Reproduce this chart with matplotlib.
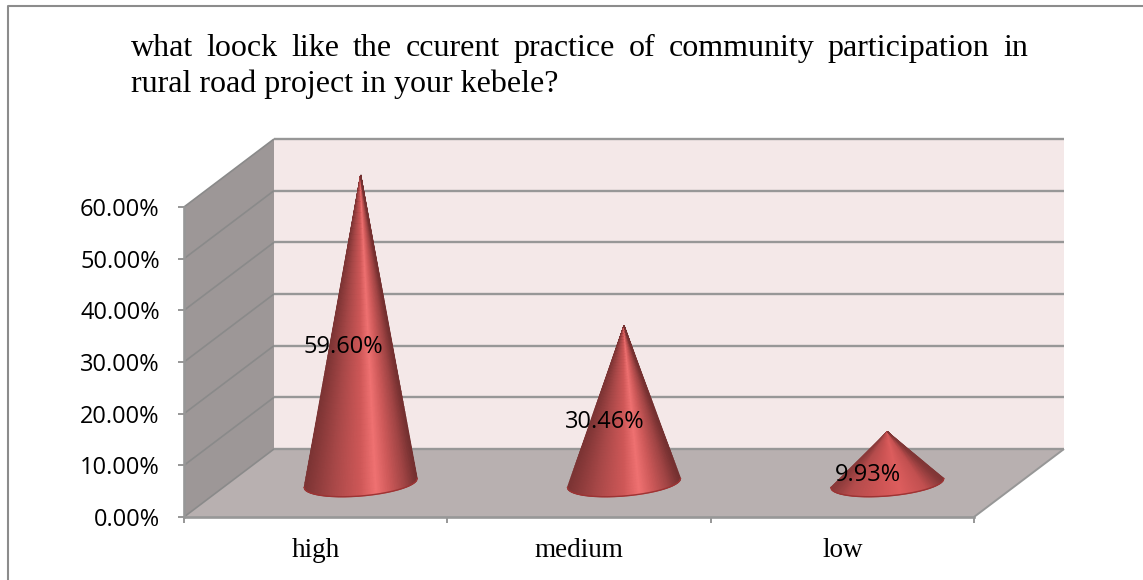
import numpy as np
import matplotlib
matplotlib.use("Agg")
import matplotlib.pyplot as plt
from matplotlib.colors import LinearSegmentedColormap
from matplotlib.lines import Line2D
from matplotlib.patches import Polygon
from matplotlib.transforms import ScaledTranslation

categories = ["high", "medium", "low"]
values = [59.60, 30.46, 9.93]
value_labels = ["59.60%", "30.46%", "9.93%"]
y_ticks = [0, 10, 20, 30, 40, 50, 60]
title_line1 = "what loock like the ccurent practice of community participation in"
title_line2 = "rural road project in your kebele?"

W, H = 1143, 580
GRID = "#979797"

fig = plt.figure(figsize=(W / 100, H / 100), dpi=100)
# front plane of the 3d box, in pixels: x 184-974, y 517-207
ax = fig.add_axes([184 / W, 1 - 517 / H, 790 / W, 310 / H])
ax.set_xlim(-0.5, 2.5)
ax.set_ylim(0, 60)
ax.patch.set_visible(False)

px_x = 3 / 790  # data units for one pixel
px_y = 60 / 310
depth_x = 90 * px_x
depth_y = 68 * px_y


def box(x, y, d):
    return (x + d * depth_x, y + d * depth_y)


def face(pts, color, z):
    ax.add_patch(Polygon(pts, closed=True, fc=color, ec="none", zorder=z, clip_on=False))


def line(pts, lw=1.7, z=2, color=GRID):
    xs, ys = zip(*pts)
    ax.plot(xs, ys, color=color, lw=lw, zorder=z, clip_on=False, solid_capstyle="butt")


x0, x1 = ax.get_xlim()
top = y_ticks[-1]
face([box(x0, 0, 1), box(x1, 0, 1), box(x1, top, 1), box(x0, top, 1)], "#f4e8e8", 1)
face([box(x0, 0, 0), box(x0, 0, 1), box(x0, top, 1), box(x0, top, 0)], "#9d9797", 1)
face([box(x0, 0, 0), box(x1, 0, 0), box(x1, 0, 1), box(x0, 0, 1)], "#b8b0b0", 1)

for t in y_ticks:
    line([box(x0, t, 0), box(x0, t, 1)], lw=1.2, color="#8a8a8a")
    line([box(x0, t, 1), box(x1, t, 1)])
line([box(x1, 0, 0), box(x1, 0, 1)], lw=1.4)

# cones drawn as fan shaped meshes so the shading runs up to the apex
shade = LinearSegmentedColormap.from_list(
    "cone",
    [(0.0, "#7c3434"), (0.25, "#a84848"), (0.5, "#cf5858"), (0.64, "#f07272"),
     (0.76, "#cf5a5a"), (0.9, "#a04444"), (1.0, "#743030")],
)
soft = LinearSegmentedColormap.from_list(
    "cone_soft",
    [(0.0, "#8a3a3a"), (0.15, "#b44c4c"), (0.4, "#cc5454"), (0.62, "#de5e5e"),
     (0.85, "#c25050"), (1.0, "#803636")],
)
cone_maps = [shade, shade, soft]
half_w = 56.5 * px_x
tilt = 4.5 * px_y
minor = 13 * px_y
label_shift = [-17, -19, -19]

u = np.linspace(-1, 1, 161)
t = np.linspace(0, 1, 60)
U, T = np.meshgrid(u, t)
for i, v in enumerate(values):
    cx, cy = box(i, 0, 0.5)
    apex = cy + v
    bottom = cy + tilt * U - minor * np.sqrt(1 - U ** 2)
    X = cx + U * half_w * T
    Y = apex + T * (bottom - apex)
    ax.pcolormesh(X, Y, (U + 1) / 2, cmap=cone_maps[i], shading="gouraud", zorder=3, clip_on=False)
    ax.plot(X[-1], Y[-1], color="#9c3434", lw=1.0, zorder=4, clip_on=False)
    off = ScaledTranslation(label_shift[i] / 100, -18 / 100, fig.dpi_scale_trans)
    ax.text(cx, cy + v / 2, value_labels[i], ha="center", va="center", fontsize=17,
            family="Open Sans", color="black", zorder=5, transform=ax.transData + off)

# axes and ticks
for side in ["top", "right"]:
    ax.spines[side].set_visible(False)
for side in ["left", "bottom"]:
    ax.spines[side].set_color(GRID)
    ax.spines[side].set_linewidth(1.9)
    ax.spines[side].set_zorder(2)
ax.set_yticks(y_ticks)
ax.set_yticklabels(["%.2f%%" % y for y in y_ticks], family="Open Sans", fontsize=17)
ax.tick_params(axis="y", length=4.5, width=1.4, color=GRID, pad=13)
ax.set_xticks(range(len(categories)))
ax.set_xticklabels(categories, family="Liberation Serif", fontsize=19.5)
ax.set_xticks(np.arange(x0, x1 + 0.5), minor=True)
ax.tick_params(axis="x", which="major", length=0, pad=15)
ax.tick_params(axis="x", which="minor", length=4.5, width=1.4, color=GRID)

# title, first line justified word by word
title_kw = dict(family="Liberation Serif", fontsize=23, color="black", va="baseline")
words = title_line1.split()
fig.canvas.draw()
renderer = fig.canvas.get_renderer()
probes = [fig.text(0, 0, w, **title_kw) for w in words]
widths = [p.get_window_extent(renderer).width for p in probes]
for p in probes:
    p.remove()
left, right = 131, 1028
gap = (right - left - sum(widths)) / (len(words) - 1)
pos = left
for w, wd in zip(words, widths):
    fig.text(pos / W, 1 - 56 / H, w, **title_kw)
    pos += wd + gap
fig.text(left / W, 1 - 92 / H, title_line2, **title_kw)

# outer frame
fig.add_artist(Line2D([8 / W, 8 / W, 1], [0, 1 - 5.5 / H, 1 - 5.5 / H], color="#8c8c8c", lw=1.5,
                      transform=fig.transFigure))

fig.savefig("out.png", dpi=100)
